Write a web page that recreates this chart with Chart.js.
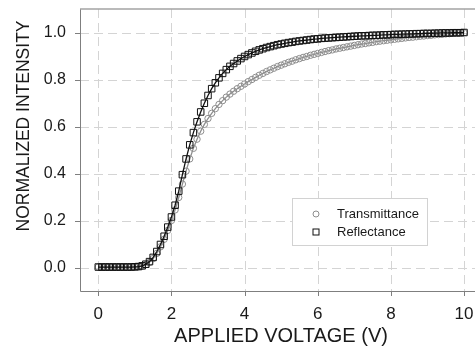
<!DOCTYPE html>
<html><head><meta charset="utf-8">
<script src="https://cdn.jsdelivr.net/npm/chart.js@4"></script>
<style>
html,body{margin:0;padding:0;overflow:hidden;background:#fff}
canvas{display:block}
</style>
</head><body>
<canvas id="c" width="475" height="356"></canvas>
<script>
const voltage = [0.0,0.1,0.2,0.3,0.4,0.5,0.6,0.7,0.8,0.9,1.0,1.1,1.2,1.3,1.4,1.5,1.6,1.7,1.8,1.9,2.0,2.1,2.2,2.3,2.4,2.5,2.6,2.7,2.8,2.9,3.0,3.1,3.2,3.3,3.4,3.5,3.6,3.7,3.8,3.9,4.0,4.1,4.2,4.3,4.4,4.5,4.6,4.7,4.8,4.9,5.0,5.1,5.2,5.3,5.4,5.5,5.6,5.7,5.8,5.9,6.0,6.1,6.2,6.3,6.4,6.5,6.6,6.7,6.8,6.9,7.0,7.1,7.2,7.3,7.4,7.5,7.6,7.7,7.8,7.9,8.0,8.1,8.2,8.3,8.4,8.5,8.6,8.7,8.8,8.9,9.0,9.1,9.2,9.3,9.4,9.5,9.6,9.7,9.8,9.9,10.0];
const transmittance = [0.002,0.002,0.002,0.002,0.002,0.002,0.002,0.002,0.002,0.002,0.002,0.003,0.006,0.012,0.022,0.038,0.060,0.088,0.120,0.158,0.200,0.245,0.298,0.355,0.410,0.462,0.507,0.546,0.580,0.609,0.634,0.656,0.676,0.694,0.710,0.725,0.738,0.750,0.761,0.771,0.781,0.791,0.800,0.809,0.818,0.826,0.834,0.841,0.848,0.855,0.861,0.867,0.873,0.878,0.884,0.889,0.894,0.898,0.903,0.907,0.911,0.915,0.919,0.923,0.926,0.930,0.933,0.936,0.939,0.942,0.945,0.948,0.951,0.953,0.956,0.958,0.961,0.963,0.965,0.967,0.969,0.971,0.973,0.975,0.977,0.979,0.980,0.982,0.984,0.985,0.987,0.988,0.990,0.991,0.992,0.994,0.995,0.996,0.997,0.998,0.999];
const reflectance = [0.002,0.002,0.002,0.002,0.002,0.002,0.002,0.002,0.002,0.002,0.003,0.004,0.007,0.014,0.025,0.043,0.068,0.098,0.133,0.172,0.215,0.265,0.325,0.395,0.462,0.522,0.574,0.620,0.662,0.699,0.732,0.761,0.786,0.807,0.826,0.842,0.856,0.868,0.879,0.889,0.898,0.906,0.913,0.920,0.926,0.931,0.936,0.940,0.944,0.948,0.951,0.954,0.957,0.959,0.962,0.964,0.966,0.968,0.970,0.972,0.973,0.975,0.976,0.977,0.978,0.979,0.980,0.981,0.982,0.983,0.984,0.985,0.986,0.986,0.987,0.988,0.988,0.989,0.990,0.990,0.991,0.992,0.992,0.993,0.993,0.994,0.994,0.995,0.995,0.996,0.996,0.996,0.997,0.997,0.998,0.998,0.998,0.999,0.999,0.999,1.000];
const xTicks = [0, 2, 4, 6, 8, 10];
const yTicks = [0.0, 0.2, 0.4, 0.6, 0.8, 1.0];
const seriesNames = ['Transmittance', 'Reflectance'];
const xTitle = 'APPLIED VOLTAGE (V)';
const yTitle = 'NORMALIZED INTENSITY';

const FONT = "'Liberation Sans', Arial, Helvetica, sans-serif";
const TEXT = '#1a1a1a';
const GRAY_SERIES = '#8e8e8e';
const BLACK_SERIES = '#111111';
const GRID = '#d4d4d4';
const AXIS = '#7f7f7f';

const crisp = v => Math.round(v) + 0.5;

const decor = {
  id: 'decor',
  beforeDatasetsDraw(chart) {
    const {ctx, chartArea: a, scales: {x, y}} = chart;
    ctx.save();
    ctx.lineWidth = 1;
    // dashed grid
    ctx.strokeStyle = GRID;
    ctx.setLineDash([9, 5]);
    xTicks.forEach(v => {
      const px = crisp(x.getPixelForValue(v));
      ctx.beginPath(); ctx.moveTo(px, a.top); ctx.lineTo(px, a.bottom); ctx.stroke();
    });
    yTicks.forEach(v => {
      const py = crisp(y.getPixelForValue(v));
      ctx.beginPath(); ctx.moveTo(a.left, py); ctx.lineTo(a.right, py); ctx.stroke();
    });
    // tick marks
    ctx.setLineDash([]);
    ctx.strokeStyle = AXIS;
    xTicks.forEach(v => {
      const px = crisp(x.getPixelForValue(v));
      ctx.beginPath(); ctx.moveTo(px, a.bottom); ctx.lineTo(px, a.bottom + 5); ctx.stroke();
    });
    yTicks.forEach(v => {
      const py = crisp(y.getPixelForValue(v));
      ctx.beginPath(); ctx.moveTo(a.left - 5, py); ctx.lineTo(a.left, py); ctx.stroke();
    });
    // axes
    ctx.beginPath();
    ctx.moveTo(crisp(a.left), a.top);
    ctx.lineTo(crisp(a.left), crisp(a.bottom));
    ctx.lineTo(a.right, crisp(a.bottom));
    ctx.stroke();
    // top frame line
    ctx.strokeStyle = '#a3a3a3';
    ctx.lineWidth = 1.5;
    ctx.beginPath();
    ctx.moveTo(a.left, a.top);
    ctx.lineTo(a.right, a.top);
    ctx.stroke();
    ctx.restore();
  },
  afterDraw(chart) {
    const {ctx, chartArea: a} = chart;
    ctx.save();
    ctx.fillStyle = TEXT;
    ctx.textAlign = 'center';
    ctx.textBaseline = 'middle';
    ctx.font = '20px ' + FONT;
    ctx.fillText(xTitle, a.left + 201, a.bottom + 45);
    ctx.font = '17.5px ' + FONT;
    ctx.translate(24, a.top + 117);
    ctx.rotate(-Math.PI / 2);
    ctx.fillText(yTitle, 0, 0);
    ctx.restore();

    ctx.save();
    const lx = a.left + 212, ly = a.top + 189, lw = 135, lh = 47;
    ctx.fillStyle = '#ffffff';
    ctx.fillRect(lx, ly, lw, lh);
    ctx.strokeStyle = '#d2d2d2';
    ctx.lineWidth = 1;
    ctx.strokeRect(lx + 0.5, ly + 0.5, lw, lh);
    const mx = lx + 24;
    const r1 = ly + 16, r2 = ly + 34;
    ctx.strokeStyle = GRAY_SERIES;
    ctx.beginPath();
    ctx.arc(mx, r1, 3, 0, Math.PI * 2);
    ctx.stroke();
    ctx.strokeStyle = BLACK_SERIES;
    ctx.strokeRect(mx - 3, r2 - 3, 6, 6);
    ctx.fillStyle = TEXT;
    ctx.font = '13px ' + FONT;
    ctx.textAlign = 'left';
    ctx.textBaseline = 'middle';
    ctx.fillText(seriesNames[0], lx + 45, r1);
    ctx.fillText(seriesNames[1], lx + 45, r2);
    ctx.restore();
  }
};

new Chart(document.getElementById('c'), {
  type: 'scatter',
  data: {
    datasets: [
      {
        label: seriesNames[0],
        data: voltage.map((v, i) => ({x: v, y: transmittance[i]})),
        showLine: true,
        borderColor: GRAY_SERIES,
        borderWidth: 1.3,
        pointStyle: 'circle',
        pointRadius: 3.2,
        pointBorderWidth: 1,
        pointBorderColor: GRAY_SERIES,
        pointBackgroundColor: 'rgba(255,255,255,0)',
        tension: 0,
        order: 2
      },
      {
        label: seriesNames[1],
        data: voltage.map((v, i) => ({x: v, y: reflectance[i]})),
        showLine: true,
        borderColor: BLACK_SERIES,
        borderWidth: 1.3,
        pointStyle: 'rect',
        pointRadius: 4.6,
        pointBorderWidth: 1,
        pointBorderColor: BLACK_SERIES,
        pointBackgroundColor: 'rgba(255,255,255,0)',
        tension: 0,
        order: 1
      }
    ]
  },
  options: {
    responsive: false,
    animation: false,
    devicePixelRatio: 1,
    layout: {autoPadding: false, padding: {top: 9, right: 0, bottom: 0, left: 0}},
    plugins: {legend: {display: false}, tooltip: {enabled: false}},
    scales: {
      x: {
        type: 'linear',
        min: -0.5,
        max: 10.3,
        afterBuildTicks: s => { s.ticks = xTicks.map(v => ({value: v})); },
        afterFit: s => { s.height = 65; s.paddingLeft = 0; s.paddingRight = 0; },
        ticks: {font: {family: FONT, size: 17}, color: TEXT, padding: 13, maxRotation: 0, autoSkip: false},
        grid: {display: false, drawTicks: false},
        border: {display: false},
        title: {display: false, text: xTitle}
      },
      y: {
        type: 'linear',
        min: -0.1,
        max: 1.1,
        afterBuildTicks: s => { s.ticks = yTicks.map(v => ({value: v})); },
        afterFit: s => { s.width = 80; s.paddingTop = 0; s.paddingBottom = 0; },
        ticks: {font: {family: FONT, size: 16}, color: TEXT, padding: 14, callback: v => Number(v).toFixed(1)},
        grid: {display: false, drawTicks: false},
        border: {display: false},
        title: {display: false, text: yTitle}
      }
    }
  },
  plugins: [decor]
});
</script>
</body></html>
